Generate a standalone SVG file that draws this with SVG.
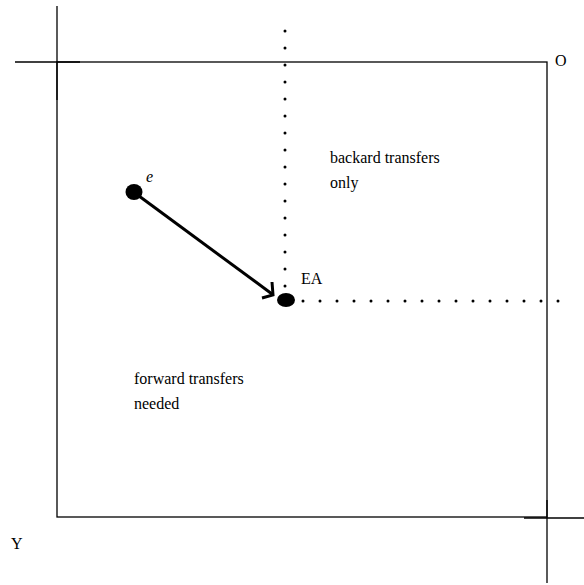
<svg xmlns="http://www.w3.org/2000/svg" width="584" height="585" viewBox="0 0 584 585">
<style>
text{font-family:"Liberation Serif","Times New Roman",serif;font-size:16px;fill:#000}
.ln{stroke:#000;stroke-width:1.3;fill:none}
.dot{stroke:#000;stroke-width:3;stroke-linecap:round;fill:none}
</style>
<rect width="584" height="585" fill="#fff"/>
<g id="box">
<rect class="ln" x="57" y="62" width="490" height="455"/>
<line class="ln" x1="15" y1="62" x2="80" y2="62"/>
<line class="ln" x1="57" y1="6" x2="57" y2="100"/>
<line class="ln" x1="524" y1="518" x2="584" y2="518"/>
<line class="ln" x1="547" y1="500" x2="547" y2="583"/>
</g>
<g id="connectors">
<line class="dot" x1="285" y1="31" x2="285" y2="287" stroke-dasharray="0 17"/>
<line class="dot" x1="303" y1="301" x2="560" y2="301" stroke-dasharray="0 17"/>
<line x1="139" y1="196" x2="272" y2="294" stroke="#000" stroke-width="3"/>
<polyline points="272,282 273,295 262,298" fill="none" stroke="#000" stroke-width="3"/>
</g>
<g id="e">
<ellipse cx="134" cy="192" rx="8.5" ry="8"/>
<text x="146" y="182" font-style="italic">e</text>
</g>
<g id="EA">
<ellipse cx="286" cy="300" rx="9" ry="7"/>
<text x="301" y="284">EA</text>
</g>
<g id="labels">
<text x="555" y="66">O</text>
<text x="11" y="549">Y</text>
<text x="330" y="163">backard transfers</text>
<text x="330" y="188">only</text>
<text x="134" y="384">forward transfers</text>
<text x="134" y="409">needed</text>
</g>
</svg>
